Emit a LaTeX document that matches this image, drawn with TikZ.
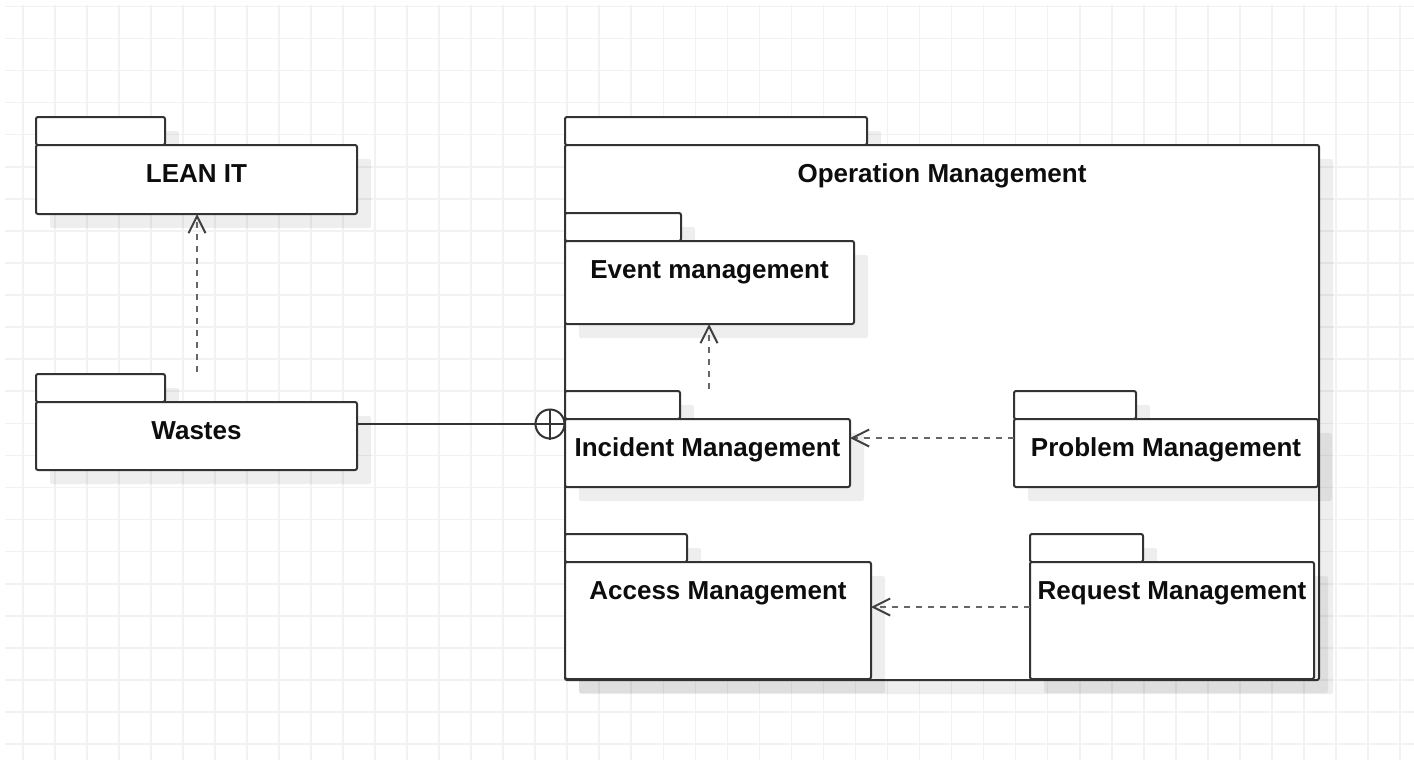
\documentclass[tikz,border=0pt]{standalone}
\usepackage{fontspec}
\setmainfont{Liberation Sans}
\usetikzlibrary{arrows.meta,shadows}

\begin{document}
\begin{tikzpicture}[x=0.5pt,y=-0.5pt,
    gridline/.style={black!5,line width=0.8pt},
    pkgshadow/.style={drop shadow={shadow xshift=7pt,shadow yshift=-7pt,fill=black,opacity=.065}},
    pkgtab/.style={draw=black!80,fill=white,line width=1pt,rounded corners=1pt,pkgshadow},
    pkg/.style={draw=black!80,fill=white,line width=1pt,rounded corners=1pt,pkgshadow,anchor=north west,inner sep=0pt,outer sep=0pt},
    pkgtitle/.style={anchor=base,font=\fontsize{13}{15}\selectfont\bfseries,text=black!95,inner sep=0pt},
    dep/.style={draw=black!60,line width=1.45pt,dash pattern=on 3pt off 3pt,-{Straight Barb[length=8.5pt,width=8.5pt,line width=1pt,color=black!75]}},
    assoc/.style={draw=black!80,line width=1pt},
    nestmark/.style={circle,draw=black!80,fill=white,line width=1pt,minimum size=14.5pt,inner sep=0pt}]
    \useasboundingbox (0,0) rectangle (1414,760);
    \fill[white] (0,0) rectangle (1414,760);
    \foreach \i in {0,...,43}
        \draw[gridline] ({22.7+32.03*\i},5) -- ({22.7+32.03*\i},760);
    \foreach \j in {0,...,23}
        \draw[gridline] (5,{6.3+32.08*\j}) -- (1414,{6.3+32.08*\j});

    \draw[pkgtab] (36,117) rectangle (165,145);
    \node[pkg,minimum width=160.5pt,minimum height=34.5pt] (lean) at (36,145) {};
    \node[pkgtitle] (leanT) at ([yshift=-18.7pt]lean.north) {LEAN IT};

    \draw[pkgtab] (36,374) rectangle (165,402);
    \node[pkg,minimum width=160.5pt,minimum height=34pt] (wastes) at (36,402) {};
    \node[pkgtitle] (wastesT) at ([yshift=-18.7pt]wastes.north) {Wastes};

    \draw[pkgtab] (565,117) rectangle (867,145);
    \node[pkg,minimum width=377pt,minimum height=267.5pt] (oper) at (565,145) {};
    \node[pkgtitle] (operT) at ([yshift=-18.7pt]oper.north) {Operation Management};

    \draw[pkgtab] (565,213) rectangle (681,241);
    \node[pkg,minimum width=144.5pt,minimum height=41.5pt] (event) at (565,241) {};
    \node[pkgtitle] (eventT) at ([yshift=-18.7pt]event.north) {Event management};

    \draw[pkgtab] (565,391) rectangle (680,419);
    \node[pkg,minimum width=142.5pt,minimum height=34pt] (incident) at (565,419) {};
    \node[pkgtitle] (incidentT) at ([yshift=-18.7pt]incident.north) {Incident Management};

    \draw[pkgtab] (1014,391) rectangle (1136,419);
    \node[pkg,minimum width=152pt,minimum height=34pt] (problem) at (1014,419) {};
    \node[pkgtitle] (problemT) at ([yshift=-18.7pt]problem.north) {Problem Management};

    \draw[pkgtab] (565,534) rectangle (687,562);
    \node[pkg,minimum width=153pt,minimum height=58.5pt] (access) at (565,562) {};
    \node[pkgtitle] (accessT) at ([yshift=-18.7pt]access.north) {Access Management};

    \draw[pkgtab] (1030,534) rectangle (1143,562);
    \node[pkg,minimum width=142pt,minimum height=58.5pt] (request) at (1030,562) {};
    \node[pkgtitle] (requestT) at ([yshift=-18.7pt]request.north) {Request Management};

    \coordinate (wastesTop) at (197,372);
    \coordinate (incidentTop) at (709,389);
    \coordinate (problemMid) at (1014,438);
    \coordinate (requestMid) at (1030,607);
    \draw[dep] (wastesTop) -- (wastesTop |- lean.south);
    \draw[dep] (incidentTop) -- (incidentTop |- event.south);
    \draw[dep] (problemMid) -- (problemMid -| incident.east);
    \draw[dep] (requestMid) -- (requestMid -| access.east);

    \node[nestmark] (nest) at (550,424) {};
    \draw[assoc] (nest.north) -- (nest.south) (nest.west) -- (nest.east);
    \draw[assoc] (nest.west -| wastes.east) -- (nest.west);
\end{tikzpicture}
\end{document}
